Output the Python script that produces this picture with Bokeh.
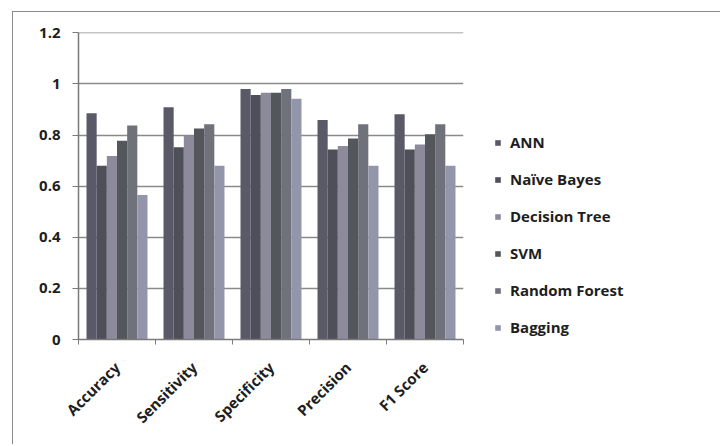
import math
from bokeh.plotting import figure
from bokeh.models import ColumnDataSource, Range1d, FixedTicker, Legend, LegendItem
from bokeh.transform import dodge
from bokeh.embed import file_html
from bokeh.resources import INLINE

metrics = ["Accuracy", "Sensitivity", "Specificity", "Precision", "F1 Score"]
models = ["ANN", "Naïve Bayes", "Decision Tree", "SVM", "Random Forest", "Bagging"]
ann = [0.885, 0.909, 0.980, 0.859, 0.882]
naive_bayes = [0.680, 0.752, 0.957, 0.744, 0.744]
decision_tree = [0.718, 0.796, 0.966, 0.757, 0.763]
svm = [0.778, 0.826, 0.966, 0.787, 0.803]
random_forest = [0.838, 0.842, 0.980, 0.842, 0.842]
bagging = [0.566, 0.680, 0.942, 0.680, 0.680]
y_ticks = [0, 0.2, 0.4, 0.6, 0.8, 1.0, 1.2]
y_tick_labels = ["0", "0.2", "0.4", "0.6", "0.8", "1", "1.2"]

series = [ann, naive_bayes, decision_tree, svm, random_forest, bagging]
colors = ["#5a5968", "#4e4f58", "#8c8a9b", "#53565a", "#6f717b", "#9396aa"]

xpos = [i + 0.5 for i in range(len(metrics))]
data = {"x": xpos}
for k, s in enumerate(series):
    data["s%d" % k] = s
source = ColumnDataSource(data)

p = figure(frame_width=385, frame_height=307, output_backend="svg", toolbar_location=None,
           x_range=Range1d(0, len(metrics)), y_range=Range1d(0, 1.2015),
           min_border_left=65, min_border_right=255, min_border_top=20,
           min_border_bottom=105)
p.margin = (11, 0, 0, 12)
p.styles = {"border-left": "1px solid #8a8a8a", "border-top": "1px solid #8a8a8a",
            "border-right": "none", "border-bottom": "none"}
p.outline_line_color = None
p.background_fill_color = "white"
p.border_fill_color = "white"

bw = 0.132
renderers = []
for k in range(len(series)):
    off = (k - 2.5) * bw
    r = p.vbar(x=dodge("x", off, range=p.x_range), top="s%d" % k, width=bw,
               source=source, fill_color=colors[k], line_color=None)
    renderers.append(r)

FONT = "Open Sans"
# y axis
p.yaxis.ticker = FixedTicker(ticks=y_ticks)
p.yaxis.major_label_overrides = {t: l for t, l in zip(y_ticks, y_tick_labels)}
p.yaxis.major_label_text_font = FONT
p.yaxis.major_label_text_font_size = "15px"
p.yaxis.major_label_text_font_style = "bold"
p.yaxis.major_label_text_color = "#1e1e1e"
p.yaxis.major_label_standoff = 12
p.yaxis.major_tick_out = 6
p.yaxis.major_tick_in = 0
p.yaxis.minor_tick_line_color = None
p.yaxis.axis_line_color = "#7a7a7a"
p.yaxis.major_tick_line_color = "#7a7a7a"
p.yaxis.axis_line_width = 1.5

# x axis: labels at category centres, ticks at category boundaries
p.xaxis.ticker = FixedTicker(ticks=xpos, minor_ticks=list(range(len(metrics) + 1)))
p.xaxis.major_label_overrides = {x: m for x, m in zip(xpos, metrics)}
p.xaxis.major_label_orientation = math.pi / 4
p.xaxis.major_label_text_font = FONT
p.xaxis.major_label_text_font_size = "15px"
p.xaxis.major_label_text_font_style = "bold"
p.xaxis.major_label_text_color = "#1e1e1e"
p.xaxis.major_label_standoff = 20
p.xaxis.major_tick_out = 0
p.xaxis.major_tick_in = 0
p.xaxis.minor_tick_out = 5
p.xaxis.minor_tick_in = 0
p.xaxis.minor_tick_line_color = "#7a7a7a"
p.xaxis.axis_line_color = "#7a7a7a"
p.xaxis.axis_line_width = 1.5

p.xgrid.grid_line_color = None
p.ygrid.grid_line_color = "#8a8a8a"
p.ygrid.grid_line_width = 1.5

legend = Legend(items=[LegendItem(label=m, renderers=[r]) for m, r in zip(models, renderers)],
                location=(31, 2), orientation="vertical")
legend.border_line_color = None
legend.background_fill_alpha = 0
legend.padding = 0
legend.margin = 0
legend.glyph_width = 7
legend.glyph_height = 7
legend.label_height = 16
legend.spacing = 17
legend.label_standoff = 9
legend.label_text_font = FONT
legend.label_text_font_size = "15px"
legend.label_text_font_style = "bold"
legend.label_text_color = "#1e1e1e"
p.add_layout(legend, "right")

open("out.html", "w").write(file_html(p, INLINE))
